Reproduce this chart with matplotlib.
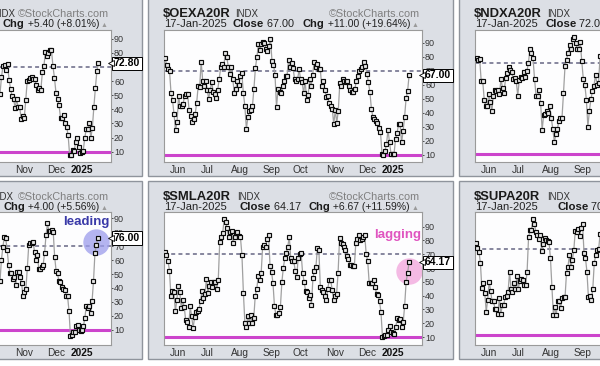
import matplotlib
matplotlib.use('Agg')
import matplotlib.pyplot as plt
import numpy as np
from matplotlib.patches import Rectangle

plt.rcParams['font.family'] = ['Liberation Sans', 'DejaVu Sans']

# ---- data (percent of stocks above 20-day SMA) ----
symbols = ['$SPXA20R', '$OEXA20R', '$NDXA20R', '$MIDA20R', '$SMLA20R', '$SUPA20R']
date_str = '17-Jan-2025'
closes = ['72.80', '67.00', '72.00', '76.00', '64.17', '70.00']
changes = ['+5.40 (+8.01%)', '+11.00 (+19.64%)', '', '+4.00 (+5.56%)', '+6.67 (+11.59%)', '']

month_labels = ['Jun', 'Jul', 'Aug', 'Sep', 'Oct', 'Nov', 'Dec', '2025']
month_days = [8.7, 28, 50, 70.7, 90, 113.3, 134.7, 152]

# trading-day range covered by each (visible) series
spans = [(97.3, 162.9), (0, 162.7), (0.4, 82.7), (97.3, 162.5), (0, 162.7), (0, 82.7)]

tl_values = [50.8, 63, 71, 71.7, 67.7, 72, 61, 54.4, 49.6, 47.2,
             41, 47.2, 41.5, 42, 33, 35, 33.7, 46.3, 60.3, 61,
             62.2, 62.7, 61.7, 61.5, 57.5, 54, 55, 54, 66.2, 70.5,
             80.7, 77.6, 80, 82, 82, 70.5, 62.2, 51.5, 47.2, 43,
             33.7, 33.7, 36, 30.6, 27.8, 21.8, 7.6, 7.6, 11, 10.7,
             17, 19.5, 13.5, 9.2, 10, 10.7, 20, 26, 26, 30.6,
             19.5, 27, 41.5, 55, 67, 72.8]

tm_values = [79, 74.5, 71, 70, 54, 49, 39, 27.5, 33.7, 52,
             45, 45, 46.5, 52, 53.5, 53.5, 42, 37.5, 33.7, 36,
             39, 47, 59, 58.5, 76.6, 63, 59.5, 63, 56.6, 50,
             56.6, 62, 55, 53.7, 51, 56.6, 64.4, 72.6, 75, 72.6,
             83, 80, 72.8, 68, 72.8, 64, 54, 57, 63, 60,
             66.6, 68.5, 54, 45, 28.4, 37, 41.5, 42, 44.6, 57,
             72, 80, 89, 85, 89.5, 90.5, 90, 85.7, 84, 87.6,
             93, 77, 74.5, 67.3, 44, 57, 54.7, 54, 59, 63,
             66.6, 66.6, 78, 73, 75.7, 72, 64, 63, 64,
             71, 64, 62, 54, 63, 49, 53, 64, 59.5, 67.3,
             76.4, 73, 75, 71.6, 71.6, 59.5, 62.5, 56.6, 51.3, 52,
             47, 45, 43, 32, 42, 33, 41.5, 61, 59.5, 64,
             62.5, 62, 63, 59.5, 56.6, 55, 54.7, 57, 63, 66.6,
             70, 71.6, 72.8, 76.6, 73.8, 68, 62, 54.7, 42.7, 37,
             35.8, 34.4, 32.7, 29.6, 26.5, 10.8, 10, 13, 17.7, 28,
             19, 10.8, 11, 10.8, 21.3, 25.5, 32, 32, 19, 26.8,
             37, 50.4, 55.4, 67]

tr_values = [73.3, 71.8, 72.6, 58.3, 58.3, 45.7, 41.7, 41.7, 49.5, 44,
             38.4, 48.4, 52.3, 51.2, 51.9, 49.5, 59.4, 53.4, 50.1, 60,
             63.4, 67.4, 65.6, 63.8, 59.4, 60, 57.9, 48.4, 59, 60.7,
             60, 63.8, 60.5, 64.5, 70, 79.3, 76.6, 73.3, 59.4, 48.4,
             47.9, 52.3, 43.5, 25.8, 35.7, 36.4, 38.4, 37.3, 41.3, 33.5,
             26.5, 17.7, 23, 26.3, 32, 34, 33.5, 50.1, 67.8, 72.2,
             76.6, 82.1, 79.3, 85.5, 87.2, 83.2, 79.3, 79.3, 83.7, 71.1,
             59.4, 55.7, 45.7, 28, 38.4, 46.2, 51.2, 55, 62.3, 55.7,
             56.8, 74.4]

bl_values = [44.7, 60.2, 69.2, 76.9, 75.7, 67.3, 56.6, 50.6, 51.1, 46.3,
             48.2, 42.3, 51.8, 51.8, 48.2, 43.5, 34.6, 37, 39.2, 54.2,
             70.9, 72.6, 72.6, 73.3, 66.1, 60.2, 63.7, 53.5, 53.5, 55.4,
             56.6, 64.9, 78.1, 86.4, 80.9, 80.9, 81.6, 80.5, 62.6, 52.5,
             50.6, 44.7, 44, 40.4, 39.2, 38.7, 34.6, 33.9, 23.2, 5.3,
             6.5, 8.1, 8.1, 12.4, 13.6, 10, 8.9, 10, 12.4, 18.4,
             27.2, 25.6, 26.8, 22, 30.3, 44.7, 64.9, 70.9, 76]

bm_values = [71.4, 69.5, 65.4, 58.2, 39.4, 43.7, 42.3, 28.6, 37, 47.3,
             42.3, 31, 36.6, 31.7, 22, 20.6, 17.2, 32.2, 25, 16.5,
             24.3, 27.8, 28.6, 30.5, 35.8, 43.7, 38.2, 41.3, 51.9, 41.8,
             47.3, 50.2, 46.1, 50.2, 50.2, 44.7, 51.4, 79.2, 82.3, 85.7,
             95.3, 93.1, 88.8, 82.8, 86.4, 86.9, 78.4, 82.8, 85.2, 86.4,
             83.3, 82.3, 69.5, 41.8, 20.1, 17.2, 25.5, 20.1, 25.7, 20.1,
             23.7, 39.9, 44.7, 53.9, 51.4, 56.3, 75.5, 76.7, 75.5, 80.8,
             84, 61.6, 57.5, 49, 32.2, 26.1, 26.1, 27.3, 31.7, 49.8,
             60.4, 67.1, 70.7, 75.5, 82.8, 67.1, 65.4, 65.4, 58.2, 53.4,
             67.1, 70.2,
             70.7, 56.7, 50.2, 43.7, 43, 38.2, 40.6, 33.4, 52.7, 58.2,
             60.6, 74.3, 73.1, 46.6, 44.2, 43, 40.1, 37, 44.7, 51.4,
             51.4, 44.2, 37, 40.1, 41.3, 56.7, 81.6, 78.4, 77.5, 75.5,
             73.1, 68.8, 66.4, 62.3, 62.3, 61.6, 61.6, 78.4, 80.8, 84,
             80.4, 80.8, 82.8, 84, 70, 65.4, 49.5, 49.5, 49.5, 51.4,
             46.6, 41.1, 40.6, 35.8, 27.8, 10, 10.5, 11.7, 11.7, 15.3,
             17.7, 13.4, 12.9, 12.4, 17.2, 23.7, 22.5, 23, 17.2, 20.6,
             32.7, 50.2, 56.7, 64.17]

br_values = [74.2, 71.2, 68.4, 60.7, 42.7, 46.2, 39.2, 26.3, 34.5, 47.3,
             41, 33.4, 34, 27.9, 27.9, 24.4, 36.1, 24.4, 31, 31,
             36.4, 37.3, 40.3, 54.3, 42, 40.3, 46.2, 42, 51.3, 42,
             48, 49, 48.5, 45, 45, 54.3, 78.4, 83.6, 83.6, 91,
             87.8, 82.4, 80, 77, 80, 68.8, 73.5, 77.7, 76.5, 76,
             75.4, 63.7, 43.8, 24, 29.3, 24, 34, 34, 28.6, 35.7,
             36.4, 36.4, 53.6, 57.9, 66, 57.4, 62.5, 69.5, 82.9, 82.4,
             84, 79.3, 84.7, 87.8, 67.7, 63.7, 54.3, 36.4, 37.5, 34.5,
             42, 60.2, 66, 69.5, 70, 80.7]

series = [tl_values, tm_values, tr_values, bl_values, bm_values, br_values]

# highlight bubbles: (panel, day, value, label)
bubbles = [(3, 161.5, 72.8, 'leading'), (4, 162.7, 57.7, 'lagging')]

# ---- layout (pixels) ----
W, H = 600, 366
COL_X = [-163, 148, 459]
ROW_Y = [-2, 181]
FRAME_W, FRAME_H = 305, 178
PLOT_W = 258
ylims = [(2.7, 96.6), (5.0, 99.5), (4.7, 92.0), (-1.0, 94.3), (4.2, 100.3), (2.8, 95.9)]
INDX_DX = [139, 71, 72, 137, 73, 72]
CLOSE_DX = [70, 69, 70, 70, 76, 82]
XLIM = (-0.67, 171.3)
bubble_style = {'leading': ('#9c9cec', '#3a3aa8', 0.932),
                'lagging': ('#f2a4dc', '#e055c0', 0.827)}

fig = plt.figure(figsize=(W / 100, H / 100), dpi=100)
fig.patch.set_facecolor('white')
renderer = fig.canvas.get_renderer()


def text_run(x, y, parts, align='left'):
    seq = parts if align == 'left' else parts[::-1]
    for s, size, weight, color in seq:
        t = fig.text(x / W, 1 - y / H, s, ha=align, va='baseline', fontsize=size,
                     fontweight=weight, color=color, parse_math=False)
        bb = t.get_window_extent(renderer=renderer)
        x = bb.x1 if align == 'left' else bb.x0


axes = []
for i, vals in enumerate(series):
    row, col = divmod(i, 3)
    fx, fy = COL_X[col], ROW_Y[row]
    fig.add_artist(Rectangle((fx / W, 1 - (fy + FRAME_H) / H), FRAME_W / W, FRAME_H / H,
                             transform=fig.transFigure, fc='#dcdfe5', ec='#8f949c',
                             lw=1.0, zorder=-5))
    pl = fx + 16
    pr = pl + PLOT_W
    pt = fy + 31.5
    pb = fy + FRAME_H - 14
    ax = fig.add_axes([pl / W, 1 - pb / H, PLOT_W / W, (pb - pt) / H])
    ax.set_facecolor('#fdfdfe')
    for sp in ax.spines.values():
        sp.set_color('#9a9a9a')
        sp.set_linewidth(0.8)

    x = np.linspace(spans[i][0], spans[i][1], len(vals))
    ax.axhline(10, color='#cc44cc', lw=2.2, zorder=2)
    ax.axhline(70, color='#7d7d96', lw=1.3, ls=(0, (2.2, 1.8)), zorder=2)
    ax.plot(x, vals, color='#a0a0a0', lw=0.9, zorder=3)
    ax.plot(x, vals, ls='none', marker='s', ms=2.6, mfc='#e8e8e8', mec='#0a0a0a',
            mew=0.85, zorder=4)

    ax.set_xlim(*XLIM)
    ax.set_ylim(*ylims[i])
    ax.yaxis.tick_right()
    ax.set_yticks(range(10, 100, 10))
    ax.tick_params(axis='y', length=1.7, width=0.6, pad=0.5, labelsize=6.5,
                   colors='#333333')
    ax.set_xticks(month_days, month_labels)
    ax.tick_params(axis='x', length=0, pad=2, labelsize=7.3, labelcolor='#333333')
    for lab in ax.get_xticklabels():
        if lab.get_text() == '2025':
            lab.set_fontweight('bold')
            lab.set_color('#111111')

    # last value tag
    ax.annotate(closes[i], xy=(1, float(closes[i])), xycoords=('axes fraction', 'data'),
                xytext=(3, 0), textcoords='offset pixels', ha='left', va='center',
                fontsize=7.5, fontweight='bold', color='black', annotation_clip=False,
                bbox=dict(boxstyle='square,pad=0.15', fc='white', ec='black', lw=0.7),
                zorder=6)
    ax.plot([1.0], [float(closes[i])], marker='<', ms=4, mfc='white', mec='black',
            mew=0.6, transform=ax.get_yaxis_transform(), clip_on=False, zorder=7)

    # header
    ty = fy + 18.8
    ly = fy + 29.3
    text_run(pl - 1, ty, [(symbols[i], 9.4, 'bold', '#1a1a1a')])
    text_run(pl + INDX_DX[i], ty, [('INDX', 7, 'normal', '#333333')])
    text_run(pr - 2, ty, [('\u00a9StockCharts.com', 7.8, 'normal', '#7f7f7f')], align='right')
    text_run(pl, ly, [(date_str, 8, 'normal', '#222222')])
    text_run(pl + CLOSE_DX[i], ly, [('Close', 8.2, 'bold', '#1a1a1a'),
                                    (' ' + closes[i], 7.8, 'normal', '#222222')])
    if changes[i]:
        text_run(pr - 3, ly, [('Chg', 8.0, 'bold', '#1a1a1a'),
                              (' ' + changes[i], 7.5, 'normal', '#222222'),
                              (' \u25b2', 5.0, 'normal', '#9a9a9a')], align='right')
    axes.append(ax)

for p, day, val, label in bubbles:
    ax = axes[p]
    face, txtc, ty = bubble_style[label]
    ax.plot([day], [val], marker='o', ms=19, color=face, alpha=0.75, mew=0,
            clip_on=False, zorder=2.5)
    ax.text(0.995, ty, label, transform=ax.transAxes, ha='right', va='center',
            fontsize=9.5, fontweight='bold', color=txtc, zorder=8)

fig.savefig('out.png', dpi=100)
